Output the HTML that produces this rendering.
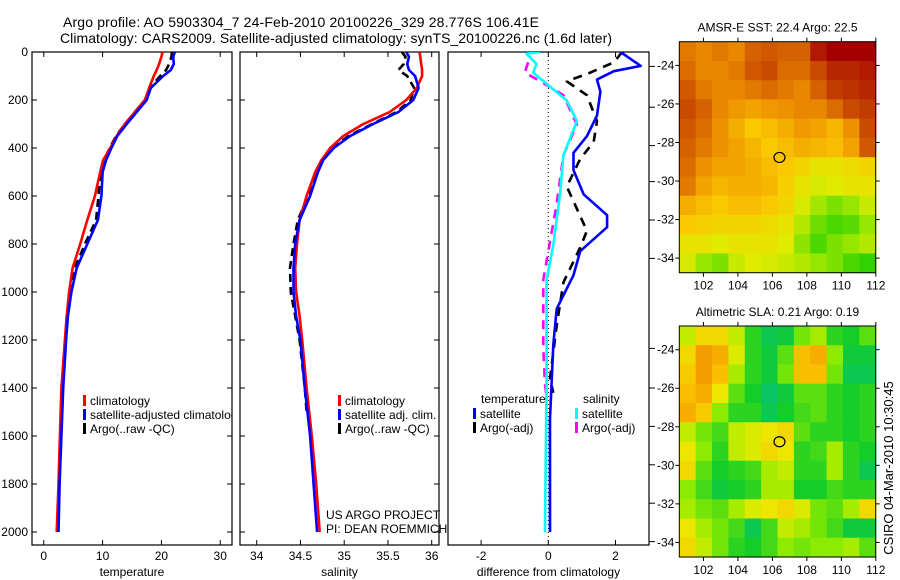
<!DOCTYPE html>
<html><head><meta charset="utf-8"><style>
html,body{margin:0;padding:0;background:#fff;}
svg{display:block;font-family:"Liberation Sans",Arial,sans-serif;}
</style></head><body>
<svg id="fig" width="900" height="580" viewBox="0 0 900 580" xmlns="http://www.w3.org/2000/svg">
<defs>
<clipPath id="c1"><rect x="32" y="52" width="200" height="493"/></clipPath>
<clipPath id="c2"><rect x="240" y="52" width="199" height="493"/></clipPath>
<clipPath id="c3"><rect x="448" y="52" width="201" height="493"/></clipPath>
</defs>
<text x="63" y="27" font-size="14" textLength="476">Argo profile: AO 5903304_7 24-Feb-2010 20100226_329 28.776S 106.41E</text>
<text x="60" y="43" font-size="14" textLength="552">Climatology: CARS2009. Satellite-adjusted climatology: synTS_20100226.nc (1.6d later)</text>
<g id="g1"></g>
<g id="g2"></g>
<g id="g3"></g>
<g id="g4"></g>
<g id="g5"></g>
<text transform="translate(893,468) rotate(-90)" font-size="13" text-anchor="middle">CSIRO 04-Mar-2010 10:30:45</text>
</svg>
<script>
// ---------- profile data ----------
const depths = [0,20,50,75,100,150,200,250,300,350,400,450,500,600,700,800,900,1000,1100,1200,1400,1600,1800,2000];
const tempClim = [20.2,20.0,19.6,19.2,18.7,17.9,17.2,15.5,13.8,12.4,11.3,10.1,9.6,8.7,7.4,6.2,4.9,4.3,3.9,3.6,3.0,2.75,2.5,2.2];
const tempSat  = [22.3,22.0,22.1,21.6,20.3,18.2,17.5,15.8,14.1,12.5,11.5,10.6,10.0,9.8,9.2,7.4,5.6,4.7,4.1,3.8,3.3,3.0,2.7,2.5];
const argoDepths = [0,20,50,75,100,150,200,250,300,350,400,450,500,600,700,800,900,1000,1100,1200,1400,1500];
const tempArgo = [21.8,21.7,21.3,20.8,19.8,18.0,17.2,15.5,13.8,12.3,11.2,10.3,9.6,9.3,8.9,7.0,5.3,4.6,4.0,3.7,3.2,3.1];
const salClim = [35.86,35.87,35.88,35.89,35.89,35.83,35.71,35.52,35.22,34.99,34.84,34.74,34.67,34.57,34.49,34.46,34.44,34.45,34.49,34.52,34.57,34.63,34.68,34.72];
const salSat  = [35.71,35.74,35.72,35.74,35.81,35.85,35.79,35.62,35.33,35.07,34.88,34.76,34.70,34.61,34.49,34.44,34.42,34.42,34.45,34.50,34.55,34.61,34.65,34.69];
const salArgo = [35.66,35.70,35.68,35.62,35.72,35.80,35.76,35.60,35.32,35.05,34.86,34.75,34.69,34.59,34.47,34.42,34.38,34.39,34.44,34.49,34.55,34.57];
const dTsatDepth = [0,58,80,115,165,265,351,420,492,593,680,730,830,930,1070,1220,1528,2000];
const dTsat = [2.15,2.75,1.95,1.45,1.55,1.45,1.15,0.75,0.75,1.05,1.75,1.75,0.95,0.75,0.25,0.15,0.05,0.05];
const dTargoDepth = [0,43,86,122,180,288,374,446,561,745,815,960,1140,1360,1420];
const dTargo = [2.2,1.95,1.25,0.55,1.15,1.45,1.35,0.95,0.55,1.15,0.95,0.45,0.25,0.05,0.15];
const dSsatDepth = [0,7,50,86,144,202,288,431,589,805,949,1380,2000];
const dSsat = [-0.25,-0.65,-0.35,-0.45,0.05,0.55,0.85,0.45,0.35,0.15,-0.05,-0.05,-0.1];
const dSargoDepth = [43,86,129,180,302,431,632,949,1236,1380,1440];
const dSargo = [-0.6,-0.7,-0.15,0.45,0.85,0.45,0.25,-0.15,-0.15,-0.1,-0.05];
const depthTicks = [0,200,400,600,800,1000,1200,1400,1600,1800,2000];
const tempTicks = [0,10,20,30];
const salTicks = [34,34.5,35,35.5,36];
const salTickLabels = ["34","34.5","35","35.5","36"];
const diffTicks = [-2,0,2];
const diffRightTicks = [60,230,390,540,700,860,1235,1400,1560,1720,1880,2040];
// ---------- map data (12x12 grids, rows north->south) ----------
const mapLons = [102,104,106,108,110,112];
const mapLats = [-24,-26,-28,-30,-32,-34];
const sstGrid = [
[.75,.72,.75,.72,.80,.82,.80,.80,.95,1,1,1],
[.78,.72,.72,.75,.82,.85,.78,.78,.85,.92,.92,.95],
[.82,.75,.72,.72,.75,.78,.75,.72,.80,.88,.90,.92],
[.85,.80,.72,.68,.65,.68,.70,.72,.72,.78,.85,.88],
[.82,.78,.70,.62,.55,.58,.62,.68,.65,.60,.70,.85],
[.80,.75,.70,.65,.60,.55,.58,.62,.60,.58,.65,.82],
[.78,.70,.65,.65,.62,.58,.55,.50,.45,.45,.48,.50],
[.75,.65,.60,.62,.62,.60,.52,.45,.40,.42,.45,.45],
[.62,.58,.55,.58,.58,.55,.50,.40,.32,.25,.30,.38],
[.55,.52,.50,.50,.50,.48,.45,.35,.22,.15,.18,.30],
[.45,.45,.42,.45,.45,.45,.42,.28,.15,.25,.30,.35],
[.40,.30,.25,.38,.42,.40,.38,.35,.30,.25,.15,.10]];
const slaGrid = [
[.6,.75,.75,.6,.3,.15,.2,.45,.55,.3,.25,.4],
[.75,.95,.9,.65,.3,.2,.4,.85,.9,.5,.2,.2],
[.8,.95,.85,.55,.3,.2,.45,.85,.85,.45,.15,.15],
[.85,.9,.7,.4,.25,.1,.2,.4,.4,.3,.25,.3],
[.9,.8,.5,.3,.3,.15,.25,.35,.4,.3,.25,.3],
[.6,.45,.35,.6,.65,.7,.75,.4,.3,.3,.25,.3],
[.7,.5,.3,.6,.65,.75,.7,.3,.35,.55,.3,.25],
[.75,.4,.25,.3,.35,.55,.6,.3,.3,.55,.3,.15],
[.5,.35,.2,.25,.3,.55,.55,.25,.25,.35,.3,.3],
[.55,.45,.4,.55,.65,.7,.75,.65,.45,.4,.55,.75],
[.7,.55,.45,.35,.15,.35,.6,.55,.45,.35,.2,.2],
[.75,.6,.45,.3,.25,.35,.5,.45,.5,.5,.55,.4]];
const argoLon = [106.41];
const argoLat = [-28.776];

const NS="http://www.w3.org/2000/svg";
function mk(parent,tag,attrs){const e=document.createElementNS(NS,tag);for(const k in attrs)e.setAttribute(k,attrs[k]);parent.appendChild(e);return e;}
const yD = d => 52 + 0.24*d;

function frame(g,x0,x1,name){
  const r=mk(g,'rect',{x:x0,y:52,width:x1-x0,height:493,fill:'none',stroke:'#000','stroke-width':1.2});
  
  
}
function line(g,xs,ds,xf,color,dash,clip,name){
  const pts=xs.map((v,i)=>xf(v).toFixed(1)+','+yD(ds[i]).toFixed(1)).join(' ');
  const p=mk(g,'polyline',{points:pts,fill:'none',stroke:color,'stroke-width':2.6,'stroke-linejoin':'round','clip-path':'url(#'+clip+')'});
  if(dash)p.setAttribute('stroke-dasharray',dash);
  
  
}
function xticks(g,x0,x1,vals,labels,xf,title){
  vals.forEach((v,i)=>{
    const x=xf(v);
    mk(g,'line',{x1:x,x2:x,y1:545,y2:540,stroke:'#000'});
    mk(g,'line',{x1:x,x2:x,y1:52,y2:57,stroke:'#000'});
    const t=mk(g,'text',{x:x,y:560,'font-size':12,'text-anchor':'middle'});t.textContent=labels[i];
    
    
  });
  const tt=mk(g,'text',{x:(x0+x1)/2,y:576,'font-size':12,'text-anchor':'middle'});tt.textContent=title;
  
  
}
function yticks(g,x0,x1,labels){
  depthTicks.forEach(d=>{
    const y=yD(d);
    mk(g,'line',{x1:x0,x2:x0+5,y1:y,y2:y,stroke:'#000'});
    mk(g,'line',{x1:x1,x2:x1-5,y1:y,y2:y,stroke:'#000'});
    if(labels){const t=mk(g,'text',{x:x0-4,y:y+4,'font-size':12,'text-anchor':'end'});t.textContent=String(d);
      
      }
  });
}
function legend(g,x,y,items,clip){
  items.forEach((it,i)=>{
    const yy=y+i*14;
    mk(g,'rect',{x:x,y:yy-9,width:3,height:11,fill:it[1]});
    const t=mk(g,'text',{x:x+7,y:yy+1,'font-size':12,'clip-path':clip?'url(#'+clip+')':''});t.textContent=it[0];
    
    
  });
}

// panel 1 temperature
const g1=document.getElementById('g1');
const xT=v=>32+(v+2)*200/34;
frame(g1,32,232,'temperature');
yticks(g1,32,232,true);
xticks(g1,32,232,tempTicks,tempTicks.map(String),xT,'temperature');
line(g1,tempArgo,argoDepths,xT,'#000','8,5','c1','temp-argo-line');
line(g1,tempClim,depths,xT,'#f00',null,'c1','temp-climatology-line');
line(g1,tempSat,depths,xT,'#00f',null,'c1','temp-satellite-line');
legend(g1,83,404,[['climatology','#f00'],['satellite-adjusted climatology','#00f'],['Argo(..raw -QC)','#000']],'c1');

// panel 2 salinity
const g2=document.getElementById('g2');
const xS=v=>256.7+(v-34)*87.5;
frame(g2,240,439,'salinity');
yticks(g2,240,439,false);
xticks(g2,240,439,salTicks,salTickLabels,xS,'salinity');
line(g2,salArgo,argoDepths,xS,'#000','8,5','c2','sal-argo-line');
line(g2,salClim,depths,xS,'#f00',null,'c2','sal-climatology-line');
line(g2,salSat,depths,xS,'#00f',null,'c2','sal-satellite-line');
legend(g2,338,404,[['climatology','#f00'],['satellite adj. clim.','#00f'],['Argo(..raw -QC)','#000']],null);
const u1=mk(g2,'text',{x:326,y:519,'font-size':12});u1.textContent='US ARGO PROJECT';


const u2=mk(g2,'text',{x:326,y:533,'font-size':12});u2.textContent='PI: DEAN ROEMMICH';



// panel 3 differences
const g3=document.getElementById('g3');
const xDf=v=>548.3+v*33.6;
frame(g3,448,649,'difference');
xticks(g3,448,649,diffTicks,diffTicks.map(String),xDf,'difference from climatology');
diffRightTicks.forEach(d=>{const y=yD(d);mk(g3,'line',{x1:649,x2:655,y1:y,y2:y,stroke:'#000'});});
mk(g3,'line',{x1:xDf(0),x2:xDf(0),y1:52,y2:545,stroke:'#000','stroke-dasharray':'1,3'});
line(g3,dTargo,dTargoDepth,xDf,'#000','9,7','c3','temp-diff-argo-line');
line(g3,dSargo,dSargoDepth,xDf,'#f0f','9,7','c3','sal-diff-argo-line');
line(g3,dTsat,dTsatDepth,xDf,'#00f',null,'c3','temp-diff-satellite-line');
line(g3,dSsat,dSsatDepth,xDf,'#0ff',null,'c3','sal-diff-satellite-line');
const lt=mk(g3,'text',{x:481,y:403,'font-size':12});lt.textContent='temperature';


const ls=mk(g3,'text',{x:583,y:403,'font-size':12});ls.textContent='salinity';


legend(g3,473,417,[['satellite','#00f'],['Argo(-adj)','#000']],null);
legend(g3,575,417,[['satellite','#0ff'],['Argo(-adj)','#f0f']],null);

// maps
function lerp(a,b,t){return a+(b-a)*t;}
function cmap(stops,v){
  for(let i=1;i<stops.length;i++){
    if(v<=stops[i][0]){const a=stops[i-1],b=stops[i];const t=(v-a[0])/(b[0]-a[0]);
      return 'rgb('+[1,2,3].map(k=>Math.round(lerp(a[k],b[k],t))).join(',')+')';}
  }
  const l=stops[stops.length-1];return 'rgb('+l[1]+','+l[2]+','+l[3]+')';
}
const sstStops=[[0,0,200,0],[0.3,150,230,0],[0.42,225,235,0],[0.55,250,200,0],[0.7,238,145,0],[0.85,200,75,0],[1,165,0,0]];
const slaStops=[[0,0,190,140],[0.25,20,205,40],[0.5,140,235,0],[0.68,235,235,0],[0.85,250,190,0],[1,240,140,0]];
function drawMap(g,grid,stops,top,title,name){
  const x0=679.3,x1=875.7,y0=top,y1=top+231;
  const lonx=v=>x0+(v-100.6)*17.24;
  const laty=v=>y0+(-22.77-v)*19.27;
  const rows=grid.length,cols=grid[0].length,cw=(x1-x0)/cols,ch=(y1-y0)/rows;
  grid.forEach((row,r)=>row.forEach((v,c)=>{
    const cell=mk(g,'rect',{x:(x0+c*cw).toFixed(2),y:(y0+r*ch).toFixed(2),width:(cw+0.6).toFixed(2),height:(ch+0.6).toFixed(2),fill:cmap(stops,v)});
    
    
  }));
  const fr=mk(g,'rect',{x:x0,y:y0,width:x1-x0,height:y1-y0,fill:'none',stroke:'#000','stroke-width':1});
  
  
  mapLons.forEach(v=>{const x=lonx(v);
    mk(g,'line',{x1:x,x2:x,y1:y1,y2:y1+4,stroke:'#000'});mk(g,'line',{x1:x,x2:x,y1:y0,y2:y0-4,stroke:'#000'});
    const t=mk(g,'text',{x:x,y:y1+17,'font-size':12,'text-anchor':'middle'});t.textContent=String(v);
    
    });
  mapLats.forEach(v=>{const y=laty(v);
    mk(g,'line',{x1:x0,x2:x0-4,y1:y,y2:y,stroke:'#000'});mk(g,'line',{x1:x1,x2:x1+4,y1:y,y2:y,stroke:'#000'});
    const t=mk(g,'text',{x:x0-5,y:y+4,'font-size':12,'text-anchor':'end'});t.textContent=String(v);
    
    });
  const tt=mk(g,'text',{x:(x0+x1)/2,y:y0-10,'font-size':12,'text-anchor':'middle'});tt.textContent=title;
  
  
  const m=mk(g,'ellipse',{cx:lonx(argoLon[0]),cy:laty(argoLat[0]),rx:5.5,ry:5,fill:'none',stroke:'#000','stroke-width':1.2});
  
  
}
drawMap(document.getElementById('g4'),sstGrid,sstStops,41.7,'AMSR-E SST: 22.4 Argo: 22.5','sst-map');
drawMap(document.getElementById('g5'),slaGrid,slaStops,326,'Altimetric SLA: 0.21 Argo: 0.19','sla-map');
</script>
</body></html>
